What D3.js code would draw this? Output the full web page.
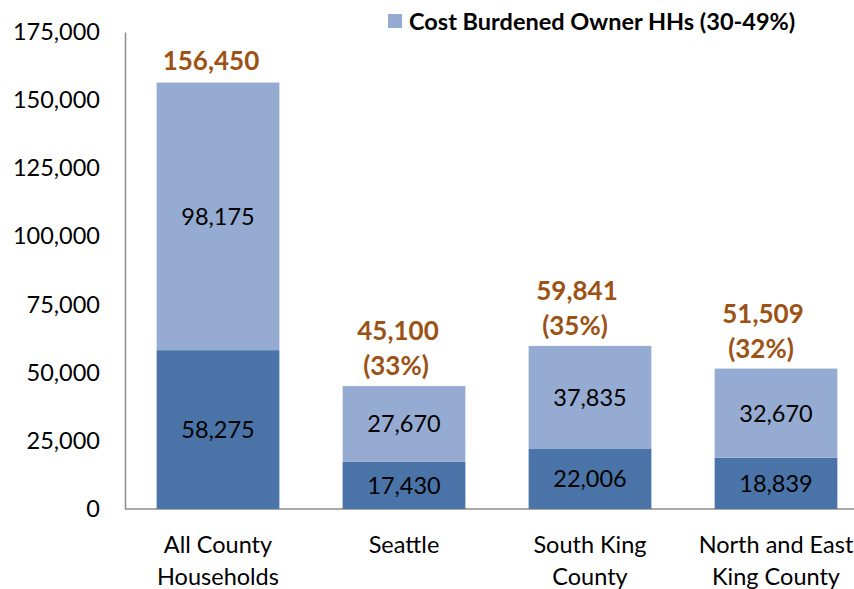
<!DOCTYPE html>
<html><head><meta charset="utf-8">
<script src="https://cdn.jsdelivr.net/npm/d3@7"></script>
<style>body{margin:0;background:#fff}svg{display:block}text{font-family:Lato,"Open Sans",sans-serif}</style>
</head><body><svg id="c" width="854" height="589"></svg>
<script>
const categories = [["All County","Households"],["Seattle"],["South King","County"],["North and East","King County"]];
const lowerValues = [58275, 17430, 22006, 18839];
const upperValues = [98175, 27670, 37835, 32670];
const totals = ["156,450","45,100","59,841","51,509"];
const shares = [null,"(33%)","(35%)","(32%)"];
const yTicks = [0,25000,50000,75000,100000,125000,150000,175000];
const legendLabel = "Cost Burdened Owner HHs (30-49%)";

const svg = d3.select("#c");
const x0 = 125, x1 = 869, yTop = 32, yBot = 509;
const x = d3.scaleBand().domain(d3.range(categories.length)).range([x0, x1]).paddingInner(0.34).paddingOuter(0.17);
const y = d3.scaleLinear().domain([0,175000]).range([yBot, yTop]);
const dark = "#4a74a8", light = "#96abd1", tot = "#9c5214";

const ax = svg.append("g").attr("transform",`translate(${x0},0)`).call(d3.axisLeft(y).tickValues(yTicks).tickSize(0).tickPadding(25).tickFormat(d3.format(",")));
ax.select(".domain").attr("stroke","#8c8c8c").attr("stroke-width",1.5);
ax.selectAll("text").attr("font-size",23.5).attr("fill","#000");
svg.append("line").attr("x1",x0).attr("x2",854).attr("y1",y(0)).attr("y2",y(0)).attr("stroke","#8c8c8c").attr("stroke-width",1.5);

const g = svg.append("g");
categories.forEach((c,i)=>{
  const bx = x(i), bw = x.bandwidth(), cx = bx + bw/2;
  g.append("rect").attr("x",bx).attr("width",bw).attr("y",y(lowerValues[i])).attr("height",y(0)-y(lowerValues[i])).attr("fill",dark);
  g.append("rect").attr("x",bx).attr("width",bw).attr("y",y(lowerValues[i]+upperValues[i])).attr("height",y(0)-y(upperValues[i])).attr("fill",light);
  g.append("text").attr("x",cx).attr("y",(y(0)+y(lowerValues[i]))/2).attr("dy","0.36em").attr("text-anchor","middle").attr("font-size",23.5).text(d3.format(",")(lowerValues[i]));
  g.append("text").attr("x",cx).attr("y",(y(lowerValues[i])+y(lowerValues[i]+upperValues[i]))/2).attr("dy","0.36em").attr("text-anchor","middle").attr("font-size",23.5).text(d3.format(",")(upperValues[i]));
  const topY = y(lowerValues[i]+upperValues[i]);
  const lx = cx - (i===0?7:(i===1?8:15));
  if (shares[i]) {
    g.append("text").attr("x",lx).attr("y",topY-11).attr("text-anchor","middle").attr("font-size",26).attr("font-weight","bold").attr("fill",tot).text(shares[i]);
    g.append("text").attr("x",lx+2).attr("y",topY-46).attr("text-anchor","middle").attr("font-size",26).attr("font-weight","bold").attr("fill",tot).text(totals[i]);
  } else {
    g.append("text").attr("x",lx).attr("y",topY-13).attr("text-anchor","middle").attr("font-size",26).attr("font-weight","bold").attr("fill",tot).text(totals[i]);
  }
  c.forEach((line,k)=>{
    g.append("text").attr("x",cx).attr("y",553+k*32).attr("text-anchor","middle").attr("font-size",23.5).text(line);
  });
});

svg.append("rect").attr("x",388).attr("y",14).attr("width",14).attr("height",14).attr("fill",light);
svg.append("text").attr("x",409).attr("y",30).attr("font-size",23.5).attr("font-weight","bold").text(legendLabel);
</script></body></html>
